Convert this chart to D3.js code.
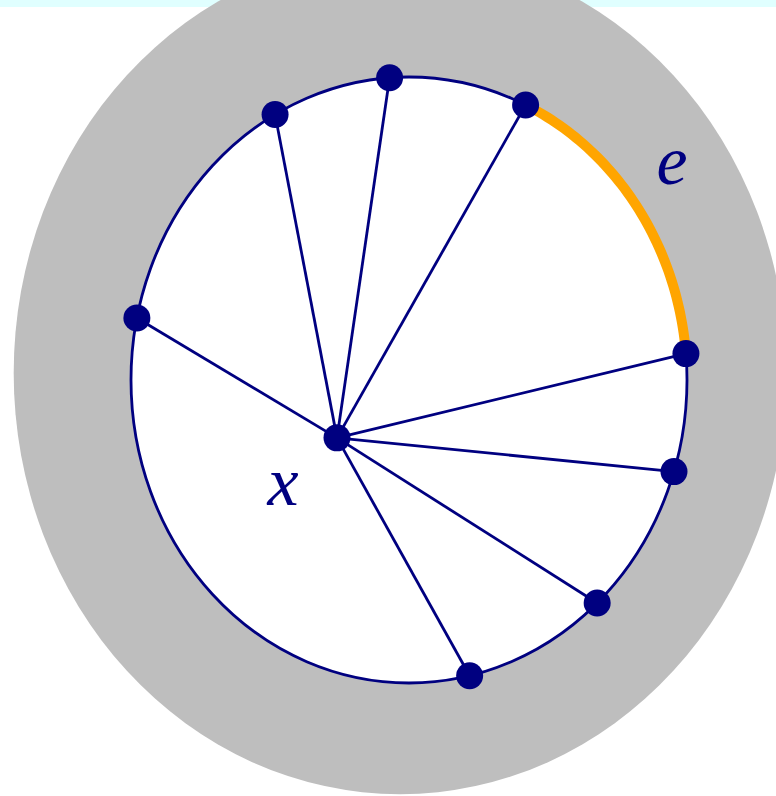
<!DOCTYPE html>
<html>
<head>
<meta charset="utf-8">
<script src="https://cdn.jsdelivr.net/npm/d3@7"></script>
<style>
  body { margin: 0; background: #fff; }
  svg { display: block; }
</style>
</head>
<body>
<svg width="776" height="796"></svg>
<script>
// boundary points, as angles (degrees) on the unit circle
var angles = [118.8, 94, 65.2, 5, -17.6, -47.4, -77.4, 168.2];
// the highlighted edge e, between two neighbouring points
var edgeFrom = 65.2, edgeTo = 5;
// the centre point x
var centre = [-0.259, -0.191];
// the shaded disc around everything
var haloCentre = [-0.032, 0.023], haloRadius = 1.39;
// labels
var labels = [
  { text: "e", pos: [0.946, 0.70] },
  { text: "x", pos: [-0.453, -0.36] }
];

var svg = d3.select("svg"),
    width = +svg.attr("width"),
    height = +svg.attr("height");

var navy = "#000080";

// unit circle -> pixels (the drawing is stretched a bit vertically)
var x = d3.scaleLinear().domain([-1, 1]).range([131, 687]);
var y = d3.scaleLinear().domain([-1, 1]).range([683, 77]);

function onCircle(a) {
    var r = a * Math.PI / 180;
    return [Math.cos(r), Math.sin(r)];
}

// light strip along the top
svg.append("rect")
    .attr("x", 0).attr("y", 0)
    .attr("width", width).attr("height", 7)
    .attr("fill", "#e0ffff");

// grey halo
svg.append("ellipse")
    .attr("cx", x(haloCentre[0]))
    .attr("cy", y(haloCentre[1]))
    .attr("rx", x(haloRadius) - x(0))
    .attr("ry", y(0) - y(haloRadius))
    .attr("fill", "#bebebe");

// the circle
svg.append("ellipse")
    .attr("cx", x(0)).attr("cy", y(0))
    .attr("rx", x(1) - x(0)).attr("ry", y(0) - y(1))
    .attr("fill", "white")
    .attr("stroke", navy)
    .attr("stroke-width", 2.8);

// spokes from x to every point
svg.append("g")
    .selectAll("line")
    .data(angles)
    .enter().append("line")
    .attr("x1", x(centre[0]))
    .attr("y1", y(centre[1]))
    .attr("x2", d => x(onCircle(d)[0]))
    .attr("y2", d => y(onCircle(d)[1]))
    .attr("stroke", navy)
    .attr("stroke-width", 2.8);

// orange edge along the circle
var line = d3.line()
    .x(d => x(onCircle(d)[0]))
    .y(d => y(onCircle(d)[1]));
var steps = d3.range(0, 61).map(i => edgeFrom + (edgeTo - edgeFrom) * i / 60);
svg.append("path")
    .datum(steps)
    .attr("d", line)
    .attr("fill", "none")
    .attr("stroke", "orange")
    .attr("stroke-width", 10);

// dots
svg.append("g")
    .selectAll("circle")
    .data(angles)
    .enter().append("circle")
    .attr("cx", d => x(onCircle(d)[0]))
    .attr("cy", d => y(onCircle(d)[1]))
    .attr("r", 13.5)
    .attr("fill", navy);

svg.append("circle")
    .attr("cx", x(centre[0]))
    .attr("cy", y(centre[1]))
    .attr("r", 13.5)
    .attr("fill", navy);

// labels
svg.append("g")
    .selectAll("text")
    .data(labels)
    .enter().append("text")
    .attr("x", d => x(d.pos[0]))
    .attr("y", d => y(d.pos[1]))
    .attr("text-anchor", "middle")
    .attr("dominant-baseline", "middle")
    .attr("font-family", "'Liberation Serif', serif")
    .attr("font-style", "italic")
    .attr("font-size", 70)
    .attr("fill", navy)
    .text(d => d.text);
</script>
</body>
</html>
